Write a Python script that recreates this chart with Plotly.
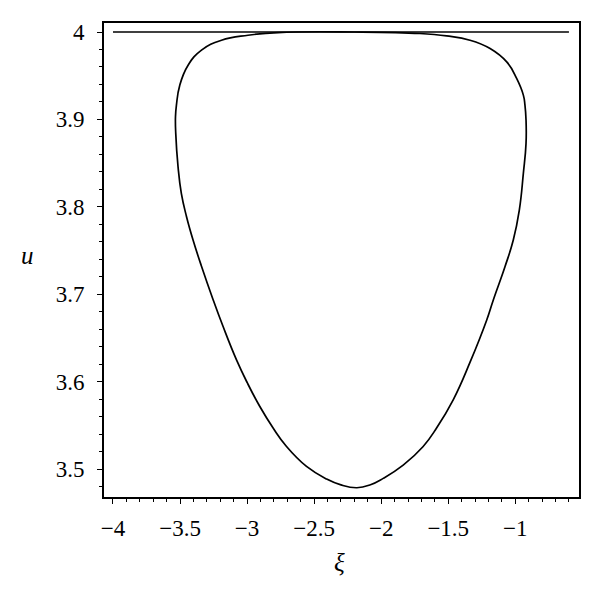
import plotly.graph_objects as go

# Closed solution loop (xi, u)
xi_loop = [-2.20, -2.769, -2.993, -3.191, -3.340, -3.440, -3.502, -3.527, -3.534, -3.532,
           -3.515, -3.490, -3.452, -3.403, -3.340, -3.254, -3.179, -3.079, -2.998,
           -2.905, -2.806, -2.706, -2.557, -2.407, -2.300, -2.181, -2.080, -1.985, -1.836,
           -1.687, -1.587, -1.463, -1.338, -1.213, -1.164, -1.077, -1.015, -0.970,
           -0.940, -0.920, -0.920, -0.928, -0.940, -0.990, -1.064, -1.188, -1.338,
           -1.512, -1.711, -2.20]
u_loop = [4.000, 3.9994, 3.9963, 3.9906, 3.9792, 3.962, 3.9392, 3.9163, 3.903, 3.884,
          3.846, 3.815, 3.789, 3.762, 3.732, 3.694, 3.663, 3.6249, 3.5985,
          3.5715, 3.5469, 3.5258, 3.503, 3.4885, 3.4818, 3.4786, 3.4820, 3.4893, 3.5045,
          3.5258, 3.5469, 3.5792, 3.6220, 3.6706, 3.6935, 3.7315, 3.762, 3.7963,
          3.8383, 3.8726, 3.8993, 3.9163, 3.9278, 3.9469, 3.9658, 3.9811, 3.9906,
          3.9955, 3.9983, 4.000]

# Horizontal equilibrium line u = 4
xi_line = [-4.0, -0.6]
u_line = [4.0, 4.0]

x_tickvals = [-4, -3.5, -3, -2.5, -2, -1.5, -1]
x_ticktext = ["\u22124", "\u22123.5", "\u22123", "\u22122.5", "\u22122", "\u22121.5", "\u22121"]
y_tickvals = [3.5, 3.6, 3.7, 3.8, 3.9, 4.0]
y_ticktext = ["3.5", "3.6", "3.7", "3.8", "3.9", "4"]

font_family = "Liberation Serif"

fig = go.Figure()
fig.add_trace(go.Scatter(x=xi_loop, y=u_loop, mode="lines",
                         line=dict(color="black", width=1.7, shape="spline", smoothing=1.3),
                         showlegend=False, hoverinfo="skip"))
fig.add_trace(go.Scatter(x=xi_line, y=u_line, mode="lines",
                         line=dict(color="black", width=1.7),
                         showlegend=False, hoverinfo="skip"))

axis_common = dict(showgrid=False, zeroline=False, showline=True, linecolor="black",
                   linewidth=1.6, mirror=True, ticks="outside", ticklen=5, tickwidth=1.3,
                   tickcolor="black", tickfont=dict(family=font_family, size=23, color="black"))

fig.update_xaxes(range=[-4.067, -0.525], tickvals=x_tickvals, ticktext=x_ticktext,
                 minor=dict(dtick=0.1, tick0=-4, ticks="outside", ticklen=3, tickwidth=1.1,
                            tickcolor="black", showgrid=False),
                 ticklabelstandoff=5, **axis_common)
fig.update_yaxes(range=[3.468, 4.0103], tickvals=y_tickvals, ticktext=y_ticktext,
                 minor=dict(dtick=0.02, tick0=3.5, ticks="outside", ticklen=3, tickwidth=1.1,
                            tickcolor="black", showgrid=False),
                 ticklabelstandoff=8, **axis_common)

# page has an 8px body margin; plot area in page coords: x 104..579, y 23..497
plot_w = 579 - 104
plot_h = 497 - 23
fig.add_annotation(text="<i>u</i>", x=(27 - 104) / plot_w, y=(497 - 255) / plot_h,
                   xref="paper", yref="paper", xanchor="center", yanchor="middle",
                   showarrow=False, font=dict(family=font_family, size=25, color="black"))
fig.add_annotation(text="<i>\u03be</i>", x=(339 - 104) / plot_w, y=(497 - 562) / plot_h,
                   xref="paper", yref="paper", xanchor="center", yanchor="middle",
                   showarrow=False, font=dict(family=font_family, size=25, color="black"))

fig.update_layout(width=592, height=586, paper_bgcolor="white", plot_bgcolor="white",
                  font=dict(family=font_family, color="black"),
                  margin=dict(l=96, r=21, t=15, b=97))

fig.write_html("out.html")
